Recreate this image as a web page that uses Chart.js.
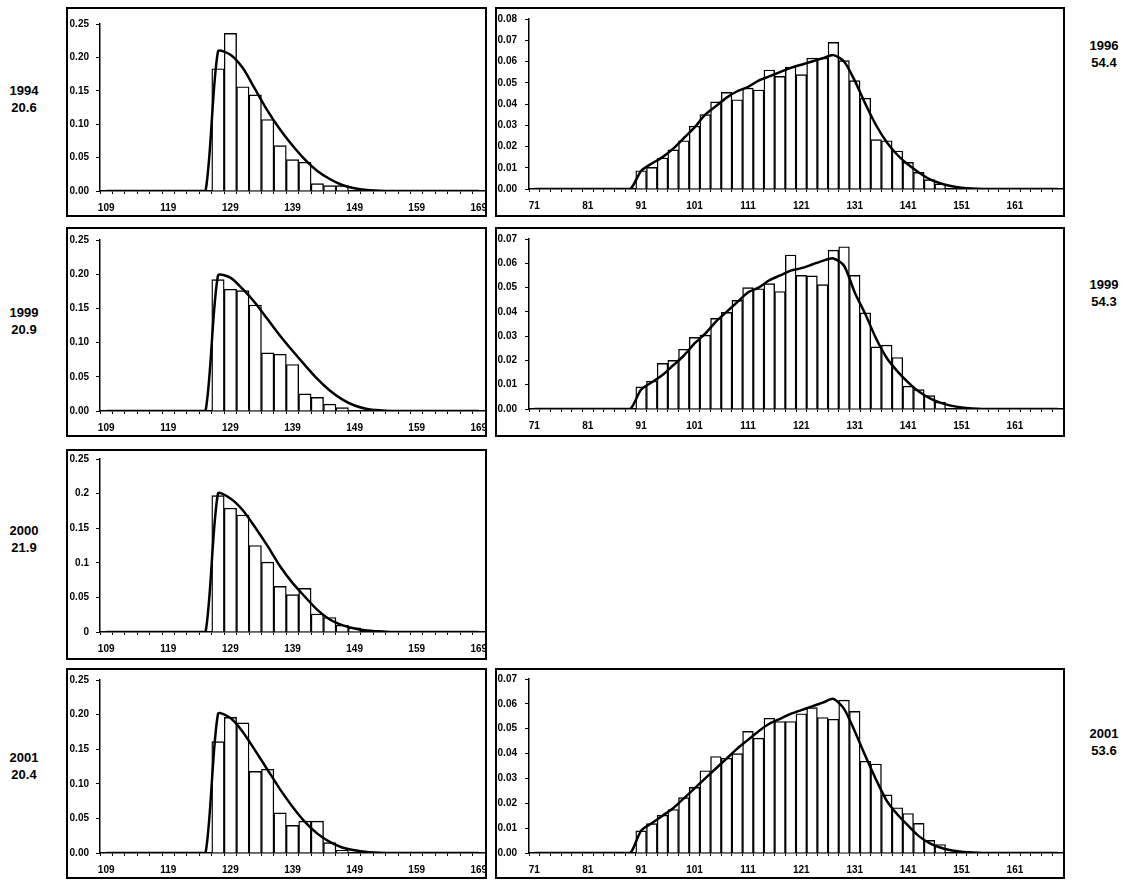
<!DOCTYPE html>
<html>
<head>
<meta charset="utf-8">
<script src="https://cdn.jsdelivr.net/npm/chart.js@4.4.0/dist/chart.umd.min.js"></script>
<style>
  body { margin: 0; background: #fff; width: 1125px; height: 881px; position: relative; overflow: hidden;
         font-family: "Liberation Sans", Arial, sans-serif; }
  .panel { position: absolute; border: 2px solid #000; box-sizing: border-box; background: #fff; }
  .panel canvas { position: absolute; left: 0; top: 0; }
  .tag { position: absolute; width: 50px; text-align: center; font-weight: bold; font-size: 13px; line-height: 17px; color: #000; }
</style>
</head>
<body>
<script>
// bin centres, 2 cm bins
const binsShort = [109, 111, 113, 115, 117, 119, 121, 123, 125, 127, 129, 131, 133, 135, 137, 139,
                   141, 143, 145, 147, 149, 151, 153, 155, 157, 159, 161, 163, 165, 167, 169];
const binsLong = [71, 73, 75, 77, 79, 81, 83, 85, 87, 89, 91, 93, 95, 97, 99, 101, 103, 105, 107, 109,
                  111, 113, 115, 117, 119, 121, 123, 125, 127, 129, 131, 133, 135, 137, 139, 141, 143, 145, 147, 149,
                  151, 153, 155, 157, 159, 161, 163, 165, 167, 169];

// observed shares, first bar sits on histStart
const histStartShort = 127;
const histStartLong = 91;
const hist1994 = [0.183, 0.236, 0.156, 0.144, 0.107, 0.068, 0.047, 0.043, 0.011, 0.008, 0.008];
const hist1999s = [0.192, 0.178, 0.176, 0.155, 0.085, 0.083, 0.068, 0.025, 0.020, 0.010, 0.005];
const hist2000 = [0.197, 0.179, 0.169, 0.125, 0.101, 0.066, 0.054, 0.063, 0.026, 0.021, 0.010, 0.006];
const hist2001s = [0.161, 0.196, 0.188, 0.118, 0.121, 0.058, 0.040, 0.046, 0.046, 0.015, 0.004];

const hist1996 = [0.0086, 0.0102, 0.0146, 0.0184, 0.0227, 0.0296, 0.035, 0.041, 0.0455, 0.042,
                  0.0475, 0.0466, 0.056, 0.053, 0.0574, 0.0538, 0.0616, 0.0616, 0.069, 0.0604,
                  0.051, 0.0427, 0.0232, 0.0227, 0.0179, 0.0125, 0.0078, 0.0044, 0.0024];
const hist1999l = [0.0091, 0.0115, 0.0188, 0.020, 0.0246, 0.0295, 0.0304, 0.0373, 0.0398, 0.0447,
                   0.050, 0.0495, 0.0516, 0.0484, 0.0634, 0.055, 0.0548, 0.0512, 0.0654, 0.0668,
                   0.055, 0.0396, 0.0256, 0.0263, 0.0212, 0.0094, 0.008, 0.0055, 0.0028];
const hist2001l = [0.0089, 0.0118, 0.0152, 0.0175, 0.0223, 0.0264, 0.0331, 0.0388, 0.0381, 0.040,
                   0.0489, 0.0462, 0.0542, 0.0529, 0.0529, 0.056, 0.0585, 0.0545, 0.0538, 0.0615,
                   0.057, 0.0369, 0.0358, 0.0234, 0.0182, 0.0159, 0.0119, 0.0051, 0.0034];

// fitted densities, one value per bin centre
const fit1994 = [0, 0, 0, 0, 0, 0, 0, 0, 0, 0.209, 0.204, 0.184, 0.152, 0.120, 0.092, 0.068,
                 0.047, 0.030, 0.018, 0.009, 0.004, 0.0015, 0.0005, 0, 0, 0, 0, 0, 0, 0, 0];
const fit1999s = [0, 0, 0, 0, 0, 0, 0, 0, 0, 0.198, 0.195, 0.178, 0.158, 0.134, 0.110, 0.088,
                  0.067, 0.047, 0.030, 0.017, 0.008, 0.003, 0.001, 0, 0, 0, 0, 0, 0, 0, 0];
const fit2000 = [0, 0, 0, 0, 0, 0, 0, 0, 0, 0.200, 0.193, 0.176, 0.151, 0.124, 0.095, 0.071,
                 0.051, 0.032, 0.018, 0.010, 0.005, 0.002, 0.001, 0, 0, 0, 0, 0, 0, 0, 0];
const fit2001s = [0, 0, 0, 0, 0, 0, 0, 0, 0, 0.201, 0.195, 0.175, 0.148, 0.120, 0.092, 0.067,
                  0.045, 0.028, 0.016, 0.008, 0.004, 0.0015, 0.0005, 0, 0, 0, 0, 0, 0, 0, 0];

const fit1996 = [0, 0, 0, 0, 0, 0, 0, 0, 0, 0,
                 0.0085, 0.012, 0.015, 0.019, 0.024, 0.029, 0.035, 0.039, 0.043, 0.046,
                 0.048, 0.051, 0.053, 0.055, 0.057, 0.0585, 0.060, 0.0615, 0.063, 0.060,
                 0.051, 0.040, 0.030, 0.022, 0.016, 0.0115, 0.0078, 0.0047, 0.0027, 0.0014,
                 0.0006, 0.0002, 0, 0, 0, 0, 0, 0, 0, 0];
const fit1999l = [0, 0, 0, 0, 0, 0, 0, 0, 0, 0,
                  0.008, 0.011, 0.014, 0.018, 0.022, 0.027, 0.031, 0.036, 0.040, 0.044,
                  0.048, 0.050, 0.053, 0.055, 0.057, 0.058, 0.0595, 0.061, 0.062, 0.059,
                  0.048, 0.039, 0.029, 0.021, 0.0155, 0.011, 0.0072, 0.0045, 0.0026, 0.0014,
                  0.0006, 0.0002, 0, 0, 0, 0, 0, 0, 0, 0];
const fit2001l = [0, 0, 0, 0, 0, 0, 0, 0, 0, 0,
                  0.009, 0.012, 0.015, 0.018, 0.022, 0.026, 0.030, 0.034, 0.038, 0.042,
                  0.0455, 0.049, 0.052, 0.054, 0.056, 0.0575, 0.059, 0.0605, 0.062, 0.058,
                  0.049, 0.039, 0.0295, 0.021, 0.0155, 0.011, 0.0068, 0.004, 0.0022, 0.0011,
                  0.0005, 0.0002, 0, 0, 0, 0, 0, 0, 0, 0];

// year / mean labels beside each panel
const tagsLeft = [['1994', '20.6'], ['1999', '20.9'], ['2000', '21.9'], ['2001', '20.4']];
const tagsRight = [['1996', '54.4'], ['1999', '54.3'], ['2001', '53.6']];

Chart.defaults.font.family = "'Liberation Sans', Arial, sans-serif";
Chart.defaults.font.weight = 'bold';
Chart.defaults.font.size = 10;
Chart.defaults.color = '#000';

// put observed shares onto the bin list, empty bins stay null
function spread(bins, start, vals) {
  return bins.map(b => {
    const k = (b - start) / 2;
    return k >= 0 && k < vals.length ? vals[k] : null;
  });
}

const fixed2 = v => v.toFixed(2);
const general = v => String(Number(v.toFixed(2)));

const panels = [
  { frame: [66, 7, 421, 210], yW: 32, yPad: 7, top: 15, xH: 24, bins: binsShort, hist: spread(binsShort, histStartShort, hist1994), fit: fit1994, max: 0.25, step: 0.05, fmt: fixed2 },
  { frame: [66, 227, 421, 210], yW: 32, yPad: 7, top: 11, xH: 24, bins: binsShort, hist: spread(binsShort, histStartShort, hist1999s), fit: fit1999s, max: 0.25, step: 0.05, fmt: fixed2 },
  { frame: [66, 449, 421, 211], yW: 32, yPad: 7, top: 8, xH: 26, bins: binsShort, hist: spread(binsShort, histStartShort, hist2000), fit: fit2000, max: 0.25, step: 0.05, fmt: general },
  { frame: [66, 668, 421, 211], yW: 32, yPad: 7, top: 10, xH: 24, bins: binsShort, hist: spread(binsShort, histStartShort, hist2001s), fit: fit2001s, max: 0.25, step: 0.05, fmt: fixed2 },
  { frame: [495, 7, 570, 210], yW: 32, yPad: 8, top: 10, xH: 26, bins: binsLong, hist: spread(binsLong, histStartLong, hist1996), fit: fit1996, max: 0.08, step: 0.01, fmt: fixed2 },
  { frame: [495, 227, 570, 210], yW: 32, yPad: 8, top: 10, xH: 26, bins: binsLong, hist: spread(binsLong, histStartLong, hist1999l), fit: fit1999l, max: 0.07, step: 0.01, fmt: fixed2 },
  { frame: [495, 668, 570, 211], yW: 32, yPad: 8, top: 9, xH: 24, bins: binsLong, hist: spread(binsLong, histStartLong, hist2001l), fit: fit2001l, max: 0.07, step: 0.01, fmt: fixed2 }
];

function drawPanel(p) {
  const [x, y, w, h] = p.frame;
  const box = document.createElement('div');
  box.className = 'panel';
  box.style.left = x + 'px';
  box.style.top = y + 'px';
  box.style.width = w + 'px';
  box.style.height = h + 'px';
  const canvas = document.createElement('canvas');
  canvas.width = w - 4;
  canvas.height = h - 4;
  box.appendChild(canvas);
  document.body.appendChild(box);

  new Chart(canvas, {
    type: 'bar',
    data: {
      labels: p.bins,
      datasets: [{
        type: 'line',
        data: p.fit,
        borderColor: '#000',
        borderWidth: 2.5,
        pointRadius: 0,
        tension: 0.25,
        borderJoinStyle: 'round',
        order: 0
      }, {
        data: p.hist,
        backgroundColor: '#fff',
        borderColor: '#000',
        borderWidth: 1.4,
        barPercentage: 1,
        categoryPercentage: 1,
        order: 1
      }]
    },
    options: {
      responsive: false,
      animation: false,
      events: [],
      layout: { padding: { top: p.top, right: 0, left: 0, bottom: 0 } },
      plugins: { legend: { display: false }, tooltip: { enabled: false } },
      scales: {
        x: {
          offset: true,
          grid: { offset: true, drawOnChartArea: false, tickLength: 3, color: '#000', lineWidth: 1 },
          border: { color: '#000', width: 1.5 },
          ticks: {
            autoSkip: false,
            maxRotation: 0,
            padding: 8,
            callback: (v, i) => i % 5 === 0 ? p.bins[i] : ''
          },
          afterFit: s => { s.height = p.xH; s.paddingLeft = 0; s.paddingRight = 0; }
        },
        y: {
          min: 0,
          max: p.max,
          grid: { drawOnChartArea: false, tickLength: 4, color: '#000', lineWidth: 1 },
          border: { color: '#000', width: 1.5 },
          ticks: { stepSize: p.step, padding: p.yPad, callback: p.fmt },
          afterFit: s => { s.width = p.yW; s.paddingTop = 0; s.paddingBottom = 0; }
        }
      }
    }
  });
}

panels.forEach(drawPanel);

function addTag(lines, cx, top) {
  const d = document.createElement('div');
  d.className = 'tag';
  d.style.left = (cx - 25) + 'px';
  d.style.top = top + 'px';
  d.innerHTML = lines.join('<br>');
  document.body.appendChild(d);
}

[82, 304, 522, 749].forEach((t, i) => addTag(tagsLeft[i], 24, t));
[37, 276, 725].forEach((t, i) => addTag(tagsRight[i], 1104, t));
</script>
</body>
</html>
